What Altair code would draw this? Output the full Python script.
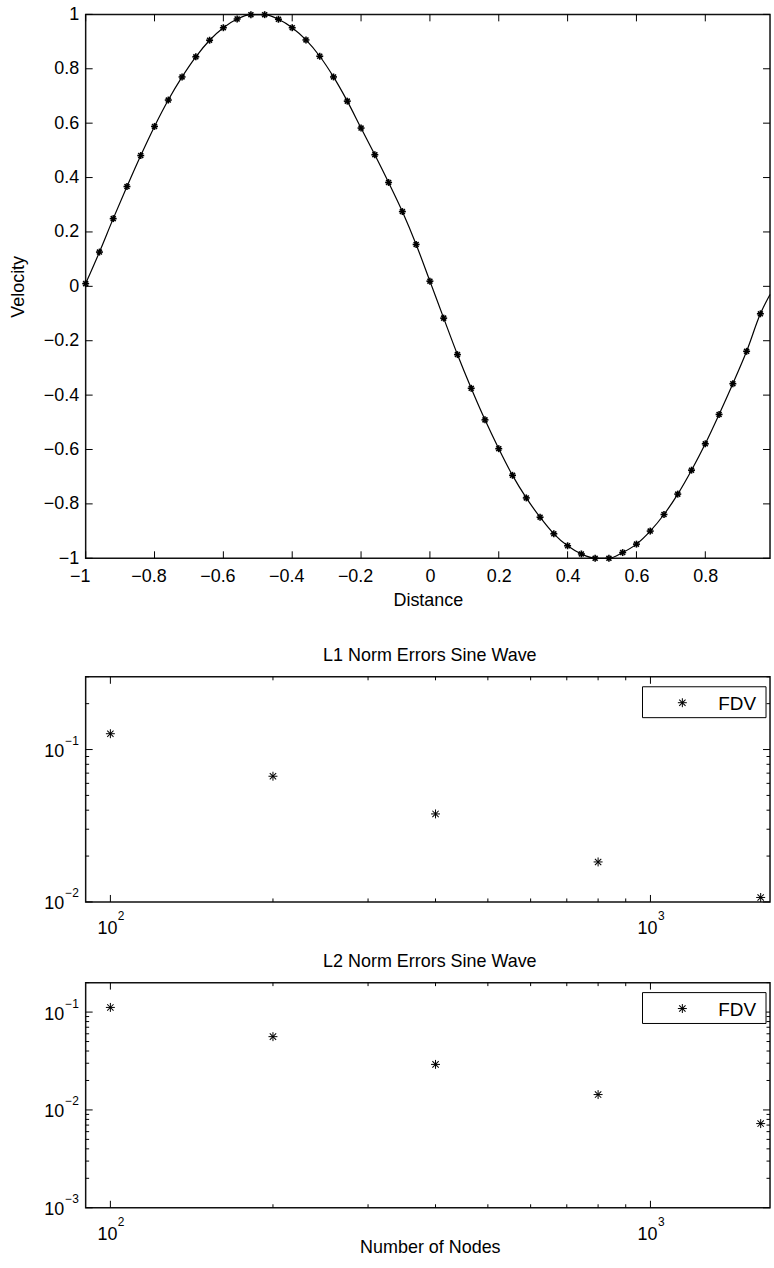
import altair as alt
import pandas as pd

# ---------------- data ----------------
dist_x = [-1.00, -0.96, -0.92, -0.88, -0.84, -0.80, -0.76, -0.72, -0.68, -0.64,
          -0.60, -0.56, -0.52, -0.48, -0.44, -0.40, -0.36, -0.32, -0.28, -0.24,
          -0.20, -0.16, -0.12, -0.08, -0.04, 0.00, 0.04, 0.08, 0.12, 0.16,
          0.20, 0.24, 0.28, 0.32, 0.36, 0.40, 0.44, 0.48, 0.52, 0.56,
          0.60, 0.64, 0.68, 0.72, 0.76, 0.80, 0.84, 0.88, 0.92, 0.96]
velocity = [0.010, 0.126, 0.249, 0.367, 0.481, 0.588, 0.685, 0.770, 0.844, 0.905,
            0.951, 0.983, 0.999, 0.999, 0.982, 0.951, 0.906, 0.846, 0.770, 0.681,
            0.582, 0.484, 0.382, 0.275, 0.154, 0.019, -0.117, -0.251, -0.375, -0.491,
            -0.597, -0.695, -0.778, -0.849, -0.910, -0.954, -0.984, -1.000, -1.000, -0.979,
            -0.948, -0.900, -0.839, -0.764, -0.676, -0.579, -0.471, -0.358, -0.239, -0.101]
# curve value read at the (cropped) right edge of the figure
line_end_x = [0.988]
line_end_v = [-0.030]

y_ticks = [-1.0, -0.8, -0.6, -0.4, -0.2, 0.0, 0.2, 0.4, 0.6, 0.8, 1.0]
x_ticks = [-1.0, -0.8, -0.6, -0.4, -0.2, 0.0, 0.2, 0.4, 0.6, 0.8]   # x = 1 lies just past the cropped edge

nodes = [100, 200, 400, 800, 1600]
l1_err = [0.127, 0.0668, 0.0378, 0.0183, 0.0107]
l2_err = [0.1116, 0.0561, 0.0292, 0.01435, 0.00725]
series_name = ["FDV"]
nodes_title = ["Number of Nodes"]

x_major = [100, 1000]
x_minor = [200, 300, 400, 500, 600, 700, 800, 900]
x_lbl_base = ["10", "10"]
x_lbl_exp = ["2", "3"]

l1_y_major = [0.01, 0.1]
l1_y_minor = [0.02, 0.03, 0.04, 0.05, 0.06, 0.07, 0.08, 0.09, 0.2, 0.3]
l1_y_lbl_exp = ["\u22122", "\u22121"]

l2_y_major = [0.001, 0.01, 0.1]
l2_y_minor = [0.002, 0.003, 0.004, 0.005, 0.006, 0.007, 0.008, 0.009,
              0.02, 0.03, 0.04, 0.05, 0.06, 0.07, 0.08, 0.09, 0.2]
l2_y_lbl_exp = ["\u22123", "\u22122", "\u22121"]

# visible axis ranges (the original figure is cropped at its right edge)
top_x_domain = [-1.0, 0.988]
top_y_domain = [-1.0, 1.0]
err_x_domain = [90, 1665]

# ---------------- style ----------------
FONT = "Liberation Sans"
W = 687
H_TOP = 546
H_LOW = 226
MAJ = 7
MIN = 3.5
ARM_ANGLES = [0, 45, 90, 135]


def asterisk(data, x, y, size, sw):
    """MATLAB-like '*' marker made of four rotated stroke symbols."""
    return [
        alt.Chart(data).mark_point(shape="stroke", angle=a, filled=False, color="black",
                                   size=size, strokeWidth=sw, opacity=1).encode(x=x, y=y)
        for a in ARM_ANGLES
    ]


# ---------------- top panel ----------------
xs = alt.Scale(domain=top_x_domain, nice=False, zero=False)
ys = alt.Scale(domain=top_y_domain, nice=False, zero=False)
x_axis = alt.Axis(
    title="Distance", values=x_ticks, format="~g", domain=False, ticks=False, tickSize=0,
    grid=False, labelFontSize=18, labelPadding=23, labelBaseline="alphabetic",
    labelOffset={"condition": {"test": "datum.value < 0", "value": -6}, "value": 0},
    titleFontSize=18, titleFontWeight="normal", titlePadding=6, labelFlush=False)
y_axis = alt.Axis(
    title="Velocity", values=y_ticks, format="~g", domain=False, ticks=False, tickSize=0,
    grid=False, labelFontSize=18, labelPadding=7,
    titleFontSize=18, titleFontWeight="normal", titlePadding=16, labelFlush=False)

star_df = pd.DataFrame({"x": dist_x, "v": velocity})
line_df = pd.DataFrame({"x": dist_x + line_end_x, "v": velocity + line_end_v})
xtick_df = pd.DataFrame({"t": x_ticks})
ytick_df = pd.DataFrame({"t": y_ticks})


def X(f):
    return alt.X(f, scale=xs, axis=x_axis, title="Distance")


def Y(f):
    return alt.Y(f, scale=ys, axis=y_axis, title="Velocity")


line = alt.Chart(line_df).mark_line(color="black", strokeWidth=1.2, interpolate="monotone").encode(
    x=X("x:Q"), y=Y("v:Q"))
stars = asterisk(star_df, X("x:Q"), Y("v:Q"), 49, 1.6)

tb = alt.Chart(xtick_df).mark_rule(color="black", strokeWidth=1).encode(
    x=X("t:Q"), y=alt.value(H_TOP), y2=alt.value(H_TOP - MAJ))
tt = alt.Chart(xtick_df).mark_rule(color="black", strokeWidth=1).encode(
    x=X("t:Q"), y=alt.value(0), y2=alt.value(MAJ))
tl = alt.Chart(ytick_df).mark_rule(color="black", strokeWidth=1).encode(
    y=Y("t:Q"), x=alt.value(0), x2=alt.value(MAJ))
tr = alt.Chart(ytick_df).mark_rule(color="black", strokeWidth=1).encode(
    y=Y("t:Q"), x=alt.value(W), x2=alt.value(W - MAJ))

top = alt.layer(line, *stars, tb, tt, tl, tr).properties(width=W, height=H_TOP)


# ---------------- error panels ----------------
def err_panel(errs, ydom, y_major, y_minor, y_exp, title, with_xtitle):
    xsl = alt.Scale(type="log", domain=err_x_domain, nice=False)
    ysl = alt.Scale(type="log", domain=ydom, nice=False)
    H = H_LOW
    pts_df = pd.DataFrame({"n": nodes, "e": errs})

    def XL(f):
        return alt.X(f, scale=xsl, axis=None)

    def YL(f):
        return alt.Y(f, scale=ysl, axis=None)

    layers = asterisk(pts_df, XL("n:Q"), YL("e:Q"), 81, 1)

    def xt(vals, length):
        d = pd.DataFrame({"t": vals})
        return [
            alt.Chart(d).mark_rule(color="black").encode(
                x=XL("t:Q"), y=alt.value(H), y2=alt.value(H - length)),
            alt.Chart(d).mark_rule(color="black").encode(
                x=XL("t:Q"), y=alt.value(0), y2=alt.value(length)),
        ]

    def yt(vals, length):
        d = pd.DataFrame({"t": vals})
        return [
            alt.Chart(d).mark_rule(color="black").encode(
                y=YL("t:Q"), x=alt.value(0), x2=alt.value(length)),
            alt.Chart(d).mark_rule(color="black").encode(
                y=YL("t:Q"), x=alt.value(W), x2=alt.value(W - length)),
        ]

    layers += xt(x_major, MAJ) + xt(x_minor, MIN) + yt(y_major, MAJ) + yt(y_minor, MIN)

    # x tick labels: 10 with superscript exponent
    xl = pd.DataFrame({"t": x_major, "b": x_lbl_base, "p": x_lbl_exp})
    layers.append(alt.Chart(xl).mark_text(font=FONT, fontSize=18, align="right",
                                          baseline="alphabetic", dx=7, color="black").encode(
        x=XL("t:Q"), y=alt.value(H + 32), text="b:N"))
    layers.append(alt.Chart(xl).mark_text(font=FONT, fontSize=12, align="left",
                                          baseline="alphabetic", dx=7.5, color="black").encode(
        x=XL("t:Q"), y=alt.value(H + 18.5), text="p:N"))
    # y tick labels
    yl = pd.DataFrame({"t": y_major, "b": ["10"] * len(y_major), "p": y_exp})
    layers.append(alt.Chart(yl).mark_text(font=FONT, fontSize=18, align="right",
                                          baseline="alphabetic", dy=7.5, color="black").encode(
        y=YL("t:Q"), x=alt.value(-21.5), text="b:N"))
    layers.append(alt.Chart(yl).mark_text(font=FONT, fontSize=12, align="left",
                                          baseline="alphabetic", dy=-4.5, color="black").encode(
        y=YL("t:Q"), x=alt.value(-20.5), text="p:N"))

    # x axis title of the last panel
    if with_xtitle:
        layers.append(alt.Chart(pd.DataFrame({"lbl": nodes_title})).mark_text(
            font=FONT, fontSize=18, align="center", baseline="alphabetic", color="black").encode(
            x=alt.value(346), y=alt.value(H + 45), text="lbl:N"))

    # legend box
    lg = pd.DataFrame({"name": series_name})
    layers.append(alt.Chart(lg).mark_rect(fill="white", stroke="black", strokeWidth=1).encode(
        x=alt.value(559), x2=alt.value(683), y=alt.value(10), y2=alt.value(41)))
    layers += asterisk(lg, alt.value(599), alt.value(26), 81, 1)
    layers.append(alt.Chart(lg).mark_text(font=FONT, fontSize=19, align="right",
                                          baseline="alphabetic", color="black").encode(
        x=alt.value(673), y=alt.value(33), text="name:N"))

    return alt.layer(*layers).properties(
        width=W, height=H,
        title=alt.TitleParams(text=title, fontSize=18, fontWeight="normal", font=FONT,
                              baseline="alphabetic", offset=16, dy=19, dx=2, anchor="middle",
                              color="black"))


mid = err_panel(l1_err, [0.01, 0.3], l1_y_major, l1_y_minor, l1_y_lbl_exp,
                "L1 Norm Errors Sine Wave", False)
bot = err_panel(l2_err, [0.001, 0.2], l2_y_major, l2_y_minor, l2_y_lbl_exp,
                "L2 Norm Errors Sine Wave", True)

lower = alt.vconcat(mid, bot, spacing=81, bounds="flush")
chart = alt.vconcat(top, lower, spacing=119, bounds="flush").properties(
    padding={"left": 8, "top": 2, "right": 0, "bottom": 0}
).configure(font=FONT).configure_view(
    stroke="#111", strokeWidth=1.5
).configure_axis(labelColor="black", titleColor="black", labelFont=FONT, titleFont=FONT)

chart.save("out.html", embed_options={"renderer": "svg", "actions": False})
